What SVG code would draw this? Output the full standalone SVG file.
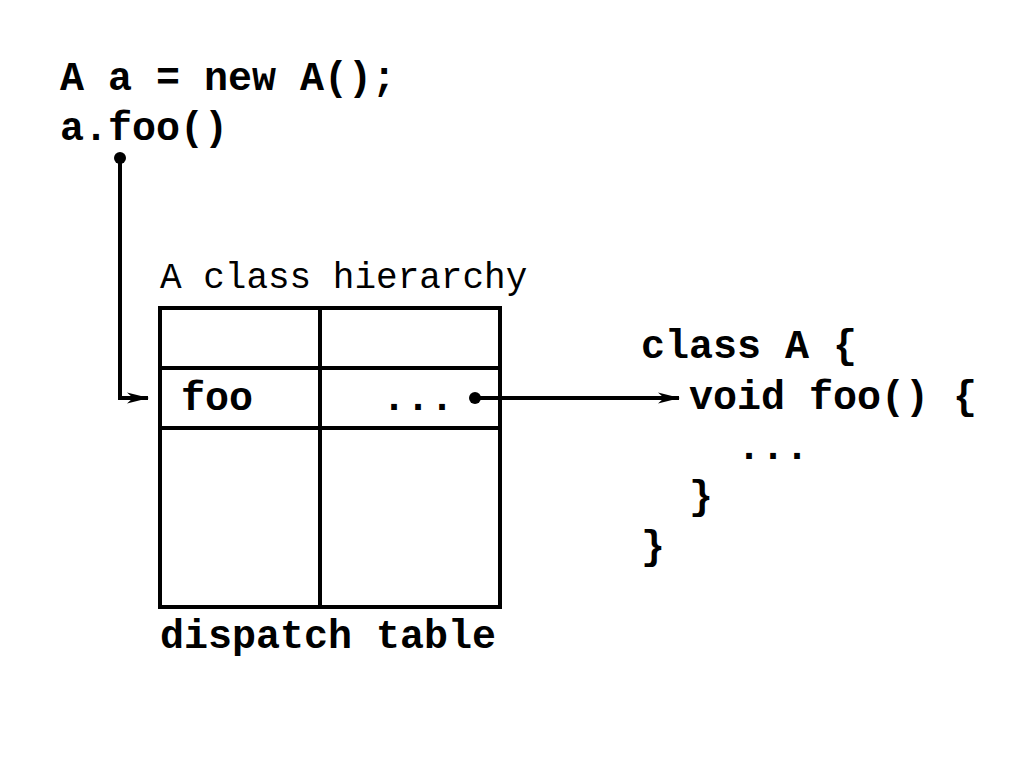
<svg xmlns="http://www.w3.org/2000/svg" width="1024" height="768" viewBox="0 0 1024 768">
<style>
.b{font-family:"Liberation Mono","DejaVu Sans Mono",monospace;font-weight:bold;font-size:40px;fill:#000}
.l{font-family:"Liberation Mono","DejaVu Sans Mono",monospace;font-size:36px;fill:#000}
.c{fill:none;stroke:#000;stroke-width:4}
.t{fill:none;stroke:#000;stroke-width:4}
</style>
<defs>
<marker id="ah" viewBox="0 0 22 14" refX="21" refY="7" markerWidth="22" markerHeight="14" markerUnits="userSpaceOnUse" orient="auto"><path d="M0,1.5 L22,7 L0,12.5 L6,7 Z" fill="#000"/></marker>
<marker id="dot" viewBox="0 0 12 12" refX="6" refY="6" markerWidth="12" markerHeight="12" markerUnits="userSpaceOnUse"><circle cx="6" cy="6" r="6" fill="#000"/></marker>
</defs>
<rect width="1024" height="768" fill="#fff"/>
<g id="code">
<text class="b" x="60" y="90">A a = new A();</text>
<text class="b" x="60" y="140">a.foo()</text>
</g>
<g id="table">
<text class="l" x="160" y="288">A class hierarchy</text>
<rect class="t" x="160" y="308" width="340" height="299"/>
<line class="t" x1="320" y1="308" x2="320" y2="607"/>
<line class="t" x1="160" y1="368" x2="500" y2="368"/>
<line class="t" x1="160" y1="428" x2="500" y2="428"/>
<text class="b" x="181" y="410">foo</text>
<text class="b" x="382" y="410">...</text>
<text class="b" x="160" y="648">dispatch table</text>
</g>
<g id="classA">
<text class="b" x="641" y="358">class A {</text>
<text class="b" x="689" y="409">void foo() {</text>
<text class="b" x="737" y="459">...</text>
<text class="b" x="689" y="509">}</text>
<text class="b" x="641" y="559">}</text>
</g>
<g id="connectors">
<polyline class="c" points="120,158 120,398 148,398" marker-start="url(#dot)" marker-end="url(#ah)"/>
<line class="c" x1="475" y1="398" x2="679" y2="398" marker-start="url(#dot)" marker-end="url(#ah)"/>
</g>
</svg>
